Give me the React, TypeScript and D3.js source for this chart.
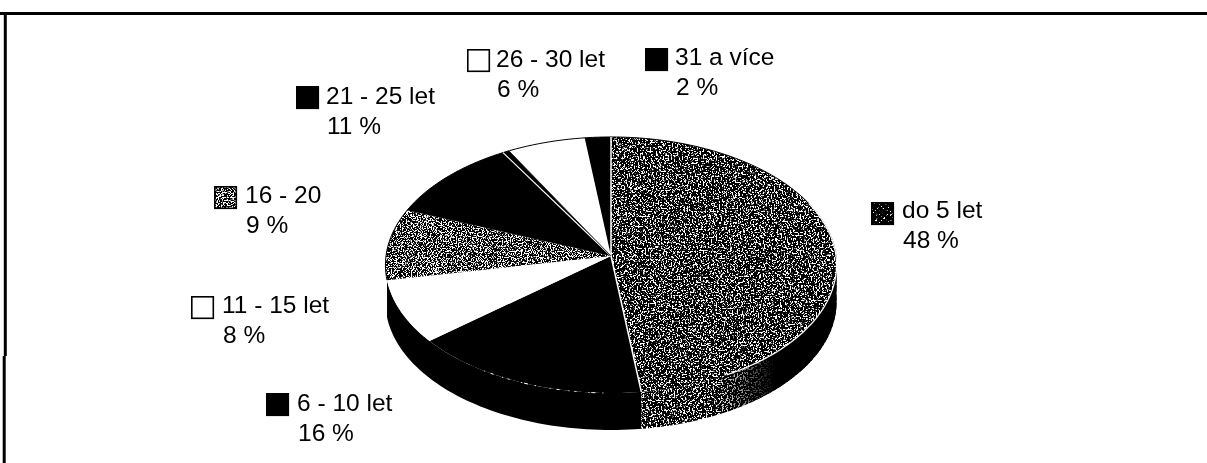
import React from 'react';
import * as d3 from 'd3';

const categories = ['do 5 let', '6 - 10 let', '11 - 15 let', '16 - 20', '21 - 25 let', '26 - 30 let', '31 a více'];
const shares = [48, 16, 8, 9, 11, 6, 2];
const fills = ['#000', '#000', '#fff', '#000', '#000', '#fff', '#000'];
const faceFilters = ['url(#noiseD)', undefined, undefined, 'url(#noiseL)', undefined, undefined, undefined];
const swatchFills = ['#000', '#000', '#fff', '#000', '#000', '#fff', '#000'];
const swatchFilters = ['url(#noiseS)', undefined, undefined, 'url(#noiseL)', undefined, undefined, undefined];

// left of swatch, top of swatch, left of text, first baseline
const labelPos = [
  [871, 202, 902, 218],
  [266, 393, 297, 411],
  [191, 296, 222, 313],
  [214, 186, 245, 203],
  [296, 86, 326, 104],
  [467, 49, 496, 67],
  [645, 48, 675, 65],
];

const width = 1207;
const height = 463;
const cx = 611;
const cy = 256;
const rx = 225;
const ryScale = 127.4;
const persp = 0.0703;
const depth = 37;

// the pie lies on a tilted disc, so the far half comes out a bit smaller
const project = (a: number, r = 1): [number, number] => {
  const u = Math.sin(a) * r;
  const v = -Math.cos(a) * r;
  const w = 1 - persp * v;
  return [cx + (rx * u) / w, cy + (ryScale * v) / w];
};

const line = d3.line();
const arcPoints = (a0: number, a1: number, shift = 0) =>
  d3.range(0, 61).map((i) => {
    const [x, y] = project(a0 + ((a1 - a0) * i) / 60);
    return [x, y + shift] as [number, number];
  });

const pie = d3.pie<number>().sort(null).value((d) => d);
const slices = pie(shares);
const pct = d3.scaleLinear().domain([0, 100]).range([0, Math.PI * 2]);

const slicePath = (a0: number, a1: number) => line([[cx, cy], ...arcPoints(a0, a1)]) + 'Z';
const spoke = (a: number) => line([[cx, cy], project(a)]) as string;

const rimStart = pct(26);
const rimEnd = pct(72);
const rimPath = (a0: number, a1: number) => {
  const from = Math.max(a0, rimStart);
  const to = Math.min(a1, rimEnd);
  return line([...arcPoints(from, to), ...arcPoints(from, to, depth).reverse()]) + 'Z';
};

const noise = (id: string, freq: number, seed: number, cut: number) => {
  const row = `14 0 0 0 ${-14 * cut}`;
  return (
    <filter id={id} x="0" y="0" width="100%" height="100%" colorInterpolationFilters="sRGB">
      <feTurbulence type="fractalNoise" baseFrequency={freq} numOctaves={3} seed={seed} />
      <feColorMatrix type="matrix" values={`${row} ${row} ${row} 0 0 0 0 1`} />
      <feComposite in2="SourceAlpha" operator="in" />
    </filter>
  );
};

export default function App() {
  return (
    <svg
      width={width}
      height={height}
      style={{ position: 'absolute', left: 0, top: 0, background: '#fff' }}
      fontFamily="'Liberation Sans', Arial, sans-serif"
    >
      <defs>
        {noise('noiseD', 0.62, 4, 0.535)}
        {noise('noiseL', 0.8, 9, 0.5)}
        {noise('noiseS', 0.5, 2, 0.64)}
        <filter id="soft" x="0" y="0" width="100%" height="100%">
          <feGaussianBlur stdDeviation="0.45" />
        </filter>
        <linearGradient id="rimShade" gradientUnits="userSpaceOnUse" x1="715" x2="775" y1="0" y2="0">
          <stop offset="0" stopColor="#000" stopOpacity="0" />
          <stop offset="1" stopColor="#000" stopOpacity="1" />
        </linearGradient>
      </defs>

      <g filter="url(#soft)">
        {/* frame, only top and left survive in the scan */}
        <path d="M0 13.5H1207" stroke="#000" strokeWidth="3" />
        <path d="M5.3 12V356" stroke="#000" strokeWidth="3" />
        <path d="M4.2 356V463" stroke="#000" strokeWidth="3" />

        {/* side wall */}
        <path d={rimPath(pct(48), pct(72))} fill="#000" />
        <path d={rimPath(slices[0].startAngle, slices[0].endAngle)} fill="#000" filter="url(#noiseD)" />
        <path d={rimPath(slices[0].startAngle, slices[0].endAngle)} fill="url(#rimShade)" />

        {/* top face */}
        {slices.map((s, i) => (
          <path key={'face' + i} d={slicePath(s.startAngle, s.endAngle)} fill={fills[i]} filter={faceFilters[i]} />
        ))}
        <path d={line(arcPoints(0, pct(26))) as string} fill="none" stroke="#000" strokeWidth="1" />
        <path d={line(arcPoints(pct(18), pct(42))) as string} fill="none" stroke="#fff" strokeWidth="1.2" />
        <path d={line(arcPoints(pct(72), pct(100))) as string} fill="none" stroke="#000" strokeWidth="1" />
        <path d={spoke(0)} stroke="#fff" strokeWidth="1.5" />
        <path d={spoke(pct(48))} stroke="#fff" strokeWidth="1.5" />
        <path d={spoke(pct(91.5))} stroke="#fff" strokeWidth="1.2" />
        <path d={spoke(pct(92))} stroke="#000" strokeWidth="0.8" />
        <path
          d={line(arcPoints(pct(50.5), pct(59))) as string}
          fill="none"
          stroke="#fff"
          strokeWidth="1"
          strokeDasharray="1 7 4 2 1 12 2 5 1 9 3 6 1 14"
        />

        {/* labels */}
        {categories.map((c, i) => {
          const [sx, sy, tx, ty] = labelPos[i];
          return (
            <g key={c}>
              <rect x={sx} y={sy} width={23} height={23} fill={swatchFills[i]} filter={swatchFilters[i]} />
              <rect x={sx + 0.8} y={sy + 0.8} width={21.5} height={21.5} fill="none" stroke="#000" strokeWidth="1.6" />
              <text x={tx} y={ty} fontSize={24.5} fill="#000">
                {c}
              </text>
              <text x={tx + 1} y={ty + 29.5} fontSize={24.5} fill="#000">
                {shares[i]} %
              </text>
            </g>
          );
        })}
      </g>
    </svg>
  );
}
